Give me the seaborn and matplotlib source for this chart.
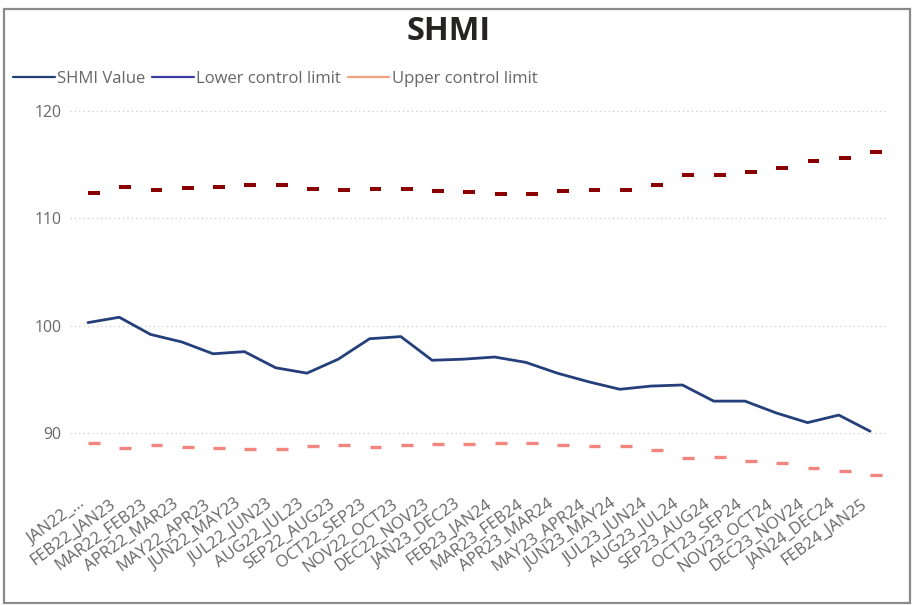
import matplotlib
matplotlib.use("Agg")
import matplotlib.pyplot as plt
import matplotlib.transforms as mtransforms
from matplotlib.lines import Line2D
from matplotlib.patches import Rectangle
import numpy as np
import pandas as pd
import seaborn as sns

# Rolling 12-month periods
periods = [
    "JAN22_...", "FEB22_JAN23", "MAR22_FEB23", "APR22_MAR23", "MAY22_APR23",
    "JUN22_MAY23", "JUL22_JUN23", "AUG22_JUL23", "SEP22_AUG23", "OCT22_SEP23",
    "NOV22_OCT23", "DEC22_NOV23", "JAN23_DEC23", "FEB23_JAN24", "MAR23_FEB24",
    "APR23_MAR24", "MAY23_APR24", "JUN23_MAY24", "JUL23_JUN24", "AUG23_JUL24",
    "SEP23_AUG24", "OCT23_SEP24", "NOV23_OCT24", "DEC23_NOV24", "JAN24_DEC24",
    "FEB24_JAN25",
]

shmi_value = [
    100.3, 100.8, 99.2, 98.5, 97.4, 97.6, 96.1, 95.6, 96.9, 98.8,
    99.0, 96.8, 96.9, 97.1, 96.6, 95.6, 94.8, 94.1, 94.4, 94.5,
    93.0, 93.0, 91.9, 91.0, 91.7, 90.2,
]

upper_limit = [
    112.37, 112.95, 112.6, 112.8, 112.9, 113.1, 113.1, 112.7, 112.6, 112.7,
    112.7, 112.55, 112.46, 112.28, 112.28, 112.58, 112.62, 112.62, 113.08, 114.06,
    114.03, 114.31, 114.68, 115.29, 115.6, 116.12,
]

lower_limit = [
    89.11, 88.62, 88.92, 88.74, 88.68, 88.52, 88.58, 88.83, 88.89, 88.77,
    88.89, 88.98, 88.97, 89.13, 89.13, 88.92, 88.85, 88.85, 88.45, 87.68,
    87.77, 87.46, 87.21, 86.75, 86.5, 86.13,
]

y_ticks = [90, 100, 110, 120]

legend_labels = ["SHMI Value", "Lower control limit", "Upper control limit"]
legend_colors = ["#243F73", "#3B3DA0", "#F2A07E"]

sns.set_theme(style="white")
plt.rcParams["font.family"] = ["Open Sans", "DejaVu Sans"]

W, H = 914, 605
fig = plt.figure(figsize=(W / 100, H / 100), dpi=100)
fig.patch.set_facecolor("white")
ax = fig.add_axes([70 / W, 1 - 485 / H, 817 / W, 385 / H])

df = pd.DataFrame({
    "pos": np.arange(len(periods)),
    "period": periods,
    "SHMI Value": shmi_value,
    "upper": upper_limit,
    "lower": lower_limit,
})

# Control limits drawn as short dashes starting at each period
ax.hlines(df["upper"], df["pos"], df["pos"] + 0.38, color="#8B0000", lw=2.9, zorder=3)
ax.hlines(df["lower"], df["pos"], df["pos"] + 0.38, color="#F2857E", lw=2.4, zorder=3)

sns.lineplot(data=df, x="pos", y="SHMI Value", ax=ax, color="#243F7A",
             lw=2.0, legend=False, zorder=4)

ax.set_xlim(-0.575, 25.54)
ax.set_ylim(85.2, 121.0)
ax.set_yticks(y_ticks)
ax.set_yticklabels([str(v) for v in y_ticks])
ax.set_xticks(df["pos"])
ax.set_xticklabels(periods, rotation=36, ha="right", va="center",
                   rotation_mode="anchor")

ax.set_xlabel("")
ax.set_ylabel("")
ax.tick_params(axis="both", length=0, labelcolor="#666666")
ax.tick_params(axis="y", pad=6, labelsize=11.3)
ax.tick_params(axis="x", pad=12.5, labelsize=12)

# nudge the slanted period labels slightly left of their ticks
shift = mtransforms.ScaledTranslation(-5 / 100, 0, fig.dpi_scale_trans)
for lbl in ax.get_xticklabels():
    lbl.set_transform(lbl.get_transform() + shift)

ax.yaxis.grid(True, linestyle=(0, (1, 2.5)), color="#cccccc", lw=0.9)
ax.xaxis.grid(False)
for sp in ax.spines.values():
    sp.set_visible(False)

handles = [Line2D([], [], color=c, lw=1.6) for c in legend_colors]
fig.legend(handles, legend_labels, loc="center left",
           bbox_to_anchor=(13 / W, 1 - 79 / H), ncol=3, frameon=False,
           handlelength=2.5, handletextpad=0.15, columnspacing=0.4,
           fontsize=12, labelcolor="#666666", borderpad=0, borderaxespad=0)

fig.text(449 / W, 1 - 31 / H, "SHMI", ha="center", va="center",
         fontsize=23.5, fontweight="bold", color="#252423")

fig.add_artist(Rectangle((4 / W, 1 - 603 / H), 906 / W, 594 / H,
                         transform=fig.transFigure, fill=False,
                         edgecolor="#8a8a8a", lw=1.6))

fig.savefig("out.png", dpi=100)
